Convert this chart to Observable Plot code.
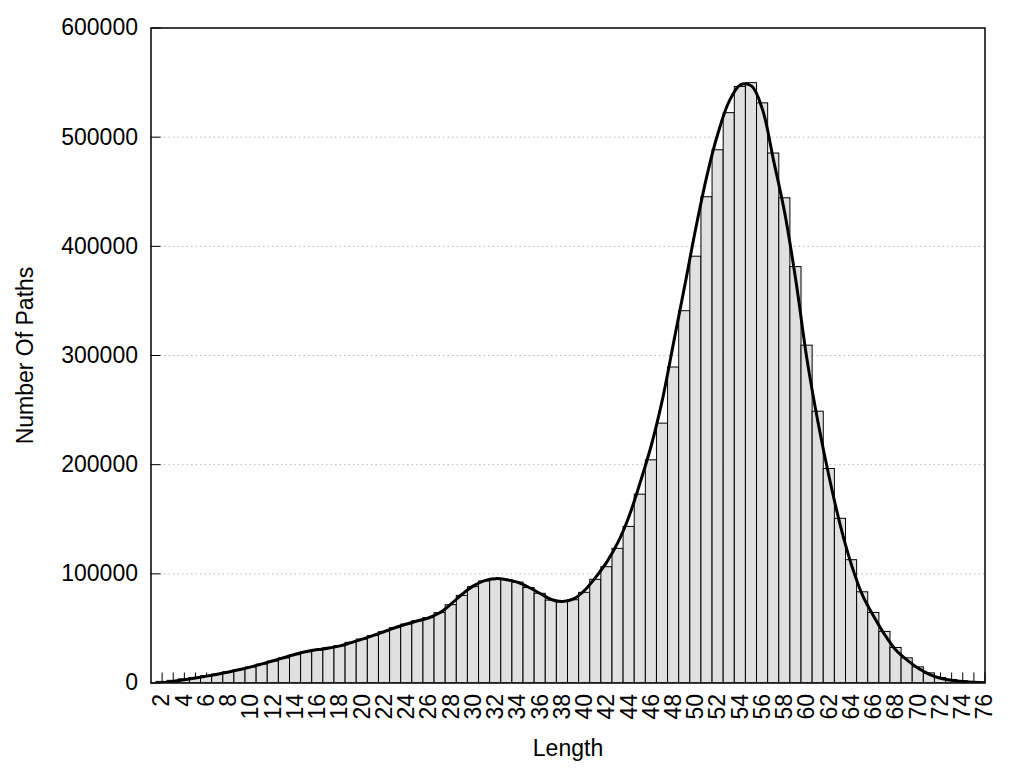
<!DOCTYPE html>
<html>
<head>
<meta charset="utf-8">
<script src="https://cdn.jsdelivr.net/npm/d3@7"></script>
<script src="https://cdn.jsdelivr.net/npm/@observablehq/plot@0.6"></script>
<style>
  html, body { margin: 0; padding: 0; background: #ffffff; }
  #chart { width: 1024px; height: 768px; }
</style>
</head>
<body>
<div id="chart"></div>
<script>
// Path lengths (x categories)
const lengths = [2,3,4,5,6,7,8,9,10,11,12,13,14,15,16,17,18,19,20,21,22,23,24,25,26,27,28,29,30,31,32,33,34,35,36,37,38,39,40,41,42,43,44,45,46,47,48,49,50,51,52,53,54,55,56,57,58,59,60,61,62,63,64,65,66,67,68,69,70,71,72,73,74,75,76];

// Histogram bar heights: number of paths per length
const counts = [1000,2000,3300,4600,6200,7800,9800,11800,14200,16800,19600,22600,25500,28200,30200,31800,33800,36800,39800,43000,46600,50300,53500,56600,59400,64000,71300,79800,87800,93000,95400,94300,92000,87000,81700,75500,74700,75800,82600,94500,106100,122900,143000,172500,204000,237600,289000,340600,390500,445000,488000,522000,546000,549500,531000,485000,444000,381000,309000,248500,196000,150400,112500,83100,64200,46800,32100,22600,14300,8800,4600,2800,1500,600,200];

// Smoothed curve values at each length
const smoothed = [300,1500,3000,4600,6300,8100,10100,12300,14800,17500,20400,23400,26300,28800,30600,32000,34000,37000,40200,43600,47200,50800,54000,57000,59800,64500,72500,81500,89000,93800,95600,94600,92200,87500,82000,76500,74600,77000,85000,97000,111000,129000,153000,184000,218000,260000,312000,364000,417000,465000,504000,533000,548000,547000,525000,478000,430000,368000,296000,238000,188000,144000,108000,80000,61000,44000,30000,21000,13500,8000,4300,2400,1300,600,200];

// Tick values / labels
const xTickLabels = [2,4,6,8,10,12,14,16,18,20,22,24,26,28,30,32,34,36,38,40,42,44,46,48,50,52,54,56,58,60,62,64,66,68,70,72,74,76];
const yTicks = [0,100000,200000,300000,400000,500000,600000];
const yGrid = [100000,200000,300000,400000,500000];

const table = lengths.map((L, i) => ({length: L, count: counts[i], smooth: smoothed[i]}));

const W = 1024, H = 768;
const mL = 150.5, mR = 39.5, mT = 27.5, mB = 85.5;
const frameW = W - mL - mR, frameH = H - mT - mB;
const FONT = "'Liberation Sans', Arial, Helvetica, sans-serif";

const chart = Plot.plot({
  width: W,
  height: H,
  marginLeft: mL,
  marginRight: mR,
  marginTop: mT,
  marginBottom: mB,
  style: {fontFamily: FONT, fontSize: "23px", background: "#ffffff", color: "#000000"},
  x: {type: "linear", domain: [1, 76], axis: null},
  y: {type: "linear", domain: [0, 600000], axis: null},
  marks: [
    Plot.gridY(yGrid, {stroke: "#b8b8b8", strokeOpacity: 1, strokeWidth: 1, strokeDasharray: "1.5,3"}),
    Plot.tickX(lengths, {x: d => d, insetTop: frameH - 10, stroke: "#000", strokeWidth: 1}),
    Plot.tickY(yTicks, {y: d => d, insetRight: frameW - 10, stroke: "#000", strokeWidth: 1}),
    Plot.rect(table, {x1: d => d.length - 0.5, x2: d => d.length + 0.5, y1: 0, y2: "count", fill: "#e0e0e0", stroke: "#000", strokeWidth: 1, clip: true}),
    Plot.line(table, {x: "length", y: "smooth", curve: "catmull-rom", stroke: "#000", strokeWidth: 3, clip: true}),
    Plot.frame({stroke: "#000", strokeWidth: 1.5}),
    Plot.text(yTicks, {y: d => d, text: d => String(d), frameAnchor: "left", textAnchor: "end", lineAnchor: "middle", dx: -13, fill: "#000"}),
    Plot.text(xTickLabels, {x: d => d, text: d => String(d), frameAnchor: "bottom", rotate: -90, textAnchor: "end", lineAnchor: "middle", dy: 11, fill: "#000"}),
    Plot.text(["Length"], {frameAnchor: "bottom", textAnchor: "middle", lineAnchor: "bottom", dy: 73, fill: "#000"}),
    Plot.text(["Number Of Paths"], {frameAnchor: "left", rotate: -90, textAnchor: "middle", lineAnchor: "middle", dx: -125, fill: "#000"})
  ]
});

document.getElementById("chart").appendChild(chart);
</script>
</body>
</html>
